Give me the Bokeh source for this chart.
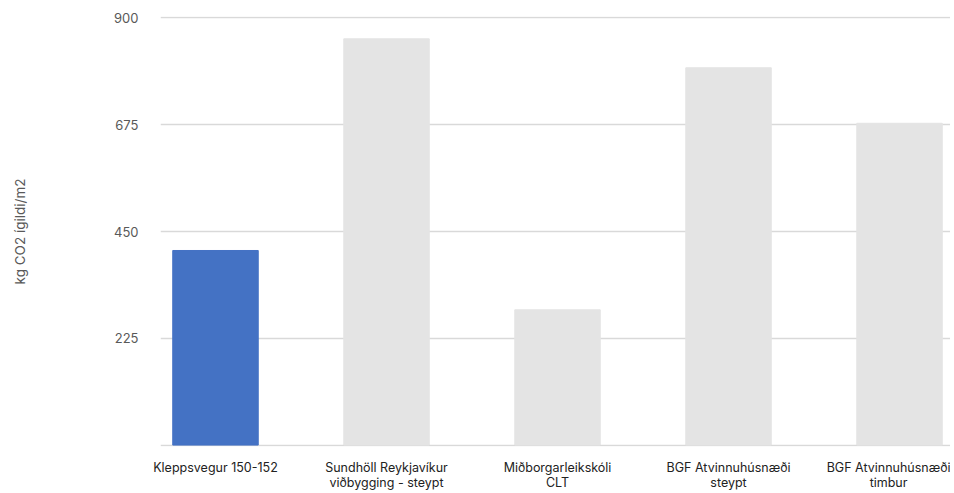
from bokeh.plotting import figure
from bokeh.models import ColumnDataSource, FixedTicker, Range1d
from bokeh.embed import file_html
from bokeh.resources import INLINE

categories = ["Kleppsvegur 150-152", "Sundhöll Reykjavíkur\nviðbygging - steypt",
              "Miðborgarleikskóli\nCLT", "BGF Atvinnuhúsnæði\nsteypt", "BGF Atvinnuhúsnæði\ntimbur"]
values = [410, 856, 285, 795, 678]
colors = ["#4472C4", "#E4E4E4", "#E4E4E4", "#E4E4E4", "#E4E4E4"]
y_ticks = [0, 225, 450, 675, 900]
y_label = "kg CO2 ígildi/m2"

xs = list(range(len(categories)))
src = ColumnDataSource(dict(x=xs, top=values, color=colors))

p = figure(width=950, height=493, output_backend="svg", toolbar_location=None,
           x_range=Range1d(-0.3216, 4.298), y_range=Range1d(-3, 903),
           min_border_left=160, min_border_right=0, min_border_top=16, min_border_bottom=38)
p.ygrid.grid_line_color = "#D9D9D9"
p.ygrid.grid_line_width = 1.5
p.vbar(x="x", top="top", width=0.5, color="color", source=src)

p.outline_line_color = None
p.xgrid.grid_line_color = None
p.yaxis.ticker = FixedTicker(ticks=y_ticks)
p.yaxis.major_label_overrides = {0: ""}
p.xaxis.ticker = FixedTicker(ticks=xs)
p.xaxis.major_label_overrides = {i: c for i, c in enumerate(categories)}

for ax in (p.xaxis[0], p.yaxis[0]):
    ax.axis_line_color = None
    ax.major_tick_line_color = None
    ax.minor_tick_line_color = None
    ax.major_label_text_font = "Inter"

p.yaxis.major_label_text_font_size = "13px"
p.yaxis.major_label_text_color = "#595959"
p.yaxis.major_label_standoff = 16
p.xaxis.major_label_text_font_size = "12.5px"
p.xaxis.major_label_text_color = "#222222"
p.xaxis.major_label_text_line_height = 1.05
p.xaxis.major_label_standoff = 7
p.yaxis.axis_label = y_label
p.yaxis.axis_label_text_font = "Inter"
p.yaxis.axis_label_text_font_size = "13.5px"
p.yaxis.axis_label_text_font_style = "normal"
p.yaxis.axis_label_text_color = "#595959"
p.yaxis.axis_label_standoff = 83

open("out.html", "w").write(file_html(p, INLINE))
